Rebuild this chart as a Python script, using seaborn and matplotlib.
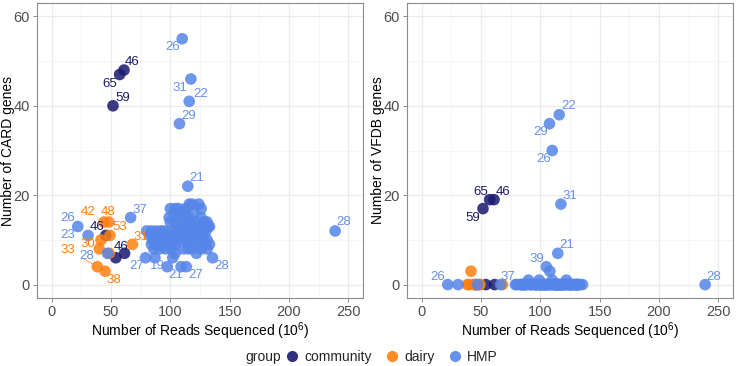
import matplotlib
matplotlib.use("Agg")
import matplotlib.pyplot as plt
from matplotlib.lines import Line2D
from matplotlib.ticker import MultipleLocator
import seaborn as sns
import pandas as pd

# ---------------- data ----------------
groups = ["community", "dairy", "HMP"]

community_reads = [60.9, 57.2, 51.6, 45.5, 54.0, 61.4]
community_card = [48, 47, 40, 11, 6, 7]
community_vfdb = [19, 19, 17, 0, 0, 0]
community_age = ["46", "65", "59", "46", "46", ""]

dairy_reads = [44.0, 48.0, 49.0, 41.5, 40.0, 68.0, 48.5, 38.4, 44.9]
dairy_card = [14, 14, 11, 10, 8, 9, 7, 4, 3]
dairy_vfdb = [0, 0, 0, 3, 0, 0, 0, 0, 0]
dairy_age = ["42", "48", "53", "30", "", "31", "", "33", "38"]

hmp_reads = [110.0, 117.3, 115.9, 107.7, 114.7, 239.0, 21.9, 30.6, 66.5, 47.0,
             79.0, 87.0, 97.4, 113.4, 135.5, 105.0, 108.0, 90.0, 99.0, 110.0,
             122.0, 109.0,
             100, 104, 107, 113, 116, 118.4, 124, 126,
             103, 108, 112, 120,
             99, 106, 115, 126, 131,
             100, 104, 112, 117, 121, 129, 132,
             109, 113, 116, 119, 123, 127, 133,
             80, 84, 88, 92, 95, 101, 114, 118, 125, 130,
             83, 87, 97, 103, 111, 115, 120, 124, 128,
             85, 92, 95, 102, 106, 113, 117, 121, 131,
             84, 88, 93, 98, 104, 115, 124, 129, 133,
             86, 91, 96, 101, 111, 115, 118, 126, 131,
             104, 102]
hmp_card = [55, 46, 41, 36, 22, 12, 13, 11, 15, 7,
            6, 6, 4, 4, 6, 12, 11, 10, 10, 12,
            7, 4,
            17, 17, 17, 17, 18, 18, 18, 17,
            16, 16, 16, 16,
            15, 15, 15, 15, 14,
            14, 14, 14, 14, 14, 14, 13,
            13, 13, 13, 13, 13, 13, 13,
            12, 12, 12, 12, 12, 12, 12, 12, 12, 12,
            11, 11, 11, 11, 11, 11, 11, 11, 11,
            10, 10, 10, 10, 10, 10, 10, 10, 10,
            9, 9, 9, 9, 9, 9, 9, 9, 9,
            8, 8, 8, 8, 8, 8, 8, 8, 8,
            7, 6]
hmp_vfdb = [30, 18, 38, 36, 7, 0, 0, 0, 0, 0,
            0, 0, 0, 0, 0, 4, 3, 1, 1, 1,
            1, 0] + [0] * 80
hmp_age = ["26", "31", "22", "29", "21", "28", "26", "23", "37", "28",
           "27", "19", "21", "27", "28", "39"] + [""] * 86

# ---------------- label placement (pixel offsets, y up) ----------------
card_offsets = {
    ("HMP", 0): (-10, -8), ("HMP", 1): (-11, -9), ("HMP", 2): (11, 7),
    ("HMP", 3): (9, 8), ("HMP", 4): (9, 8), ("HMP", 5): (9, 9),
    ("HMP", 6): (-10, 8), ("HMP", 7): (-20, 0), ("HMP", 8): (9, 8),
    ("HMP", 9): (-21, -3), ("HMP", 10): (-9, -8), ("HMP", 11): (2, -8),
    ("HMP", 12): (8, -8), ("HMP", 13): (9, -8), ("HMP", 14): (9, -8),
    ("community", 0): (8, 8), ("community", 1): (-10, -9),
    ("community", 2): (10, 8), ("community", 3): (-9, 8),
    ("community", 4): (5, 11),
    ("dairy", 0): (-16, 10), ("dairy", 1): (-1, 10), ("dairy", 2): (10, 8),
    ("dairy", 3): (-13, -4), ("dairy", 5): (8, 7), ("dairy", 7): (-30, 17),
    ("dairy", 8): (9, -9),
}
card_segments = {("HMP", 7), ("HMP", 9), ("dairy", 0), ("dairy", 7)}

vfdb_offsets = {
    ("HMP", 0): (-9, -9), ("HMP", 1): (9, 8), ("HMP", 2): (9, 9),
    ("HMP", 3): (-9, -8), ("HMP", 4): (9, 8), ("HMP", 5): (9, 8),
    ("HMP", 6): (-10, 8), ("HMP", 8): (7, 8), ("HMP", 15): (-9, 8),
    ("community", 0): (9, 8), ("community", 1): (-9, 8),
    ("community", 2): (-10, -9),
}

# ---------------- build frame ----------------
rows = []
for g, rd, cd, vf, ag in [
    ("community", community_reads, community_card, community_vfdb, community_age),
    ("dairy", dairy_reads, dairy_card, dairy_vfdb, dairy_age),
    ("HMP", hmp_reads, hmp_card, hmp_vfdb, hmp_age),
]:
    for i in range(len(rd)):
        rows.append(dict(group=g, idx=i, reads=rd[i], CARD=cd[i], VFDB=vf[i], age=ag[i]))
df = pd.DataFrame(rows)

# ---------------- style ----------------
sns.set_theme(style="white")
plt.rcParams["font.family"] = ["Liberation Sans", "DejaVu Sans"]
plt.rcParams["mathtext.fontset"] = "custom"
plt.rcParams["mathtext.rm"] = "Liberation Sans"
plt.rcParams["mathtext.it"] = "Liberation Sans"

palette = {"community": "#191970", "dairy": "#FF7F0E", "HMP": "#5585E8"}
label_colors = {"community": "#191970", "dairy": "#FF7F0E", "HMP": "#6590EC"}

W, H = 736, 366
fig = plt.figure(figsize=(W / 100, H / 100), dpi=100)
ax1 = fig.add_axes([37 / W, 1 - 298 / H, 326 / W, 295 / H])
ax2 = fig.add_axes([407 / W, 1 - 298 / H, 326 / W, 295 / H])

for ax, col, offsets, segs, ylab in [
    (ax1, "CARD", card_offsets, card_segments, "Number of CARD genes"),
    (ax2, "VFDB", vfdb_offsets, set(), "Number of VFDB genes"),
]:
    ax.set_facecolor("white")
    sns.scatterplot(data=df, x="reads", y=col, hue="group", hue_order=groups,
                    palette=palette, s=70, alpha=0.85, linewidth=0,
                    legend=False, ax=ax, zorder=3)
    ax.set_xlim(-12.5, 262.5)
    ax.set_ylim(-3, 63)
    ax.xaxis.set_major_locator(MultipleLocator(50))
    ax.xaxis.set_minor_locator(MultipleLocator(25))
    ax.yaxis.set_major_locator(MultipleLocator(20))
    ax.yaxis.set_minor_locator(MultipleLocator(10))
    ax.grid(which="major", color="#EBEBEB", lw=0.9, zorder=0)
    ax.grid(which="minor", color="#F4F4F4", lw=0.6, zorder=0)
    ax.set_axisbelow(True)
    for sp in ax.spines.values():
        sp.set_color("#8C8C8C")
        sp.set_linewidth(0.8)
    ax.tick_params(axis="both", which="major", length=3, width=0.7,
                   color="#8C8C8C", labelsize=10.5, labelcolor="#4D4D4D",
                   bottom=True, left=True, pad=2)
    ax.tick_params(which="minor", length=0)
    ax.set_xlabel("Number of Reads Sequenced (10$^{6}$)", fontsize=10,
                  color="black", labelpad=1)
    ax.set_ylabel(ylab, fontsize=10, color="black")
    ax.yaxis.set_label_coords(-0.068, 0.5)

    for (g, i), (dx, dy) in offsets.items():
        r = df[(df.group == g) & (df.idx == i)].iloc[0]
        arrow = None
        if (g, i) in segs:
            arrow = dict(arrowstyle="-", lw=0.5, color=label_colors[g],
                         shrinkA=5, shrinkB=4)
        ax.annotate(r["age"], xy=(r["reads"], r[col]), xytext=(dx, dy),
                    textcoords="offset pixels", ha="center", va="center",
                    fontsize=9.5, color=label_colors[g], zorder=4,
                    arrowprops=arrow)

# ---------------- legend ----------------
fig.text(245 / W, 1 - 357 / H, "group", fontsize=10, va="center", ha="left")
handles = [Line2D([], [], marker="o", ls="", markersize=8, color=palette[g],
                  alpha=0.9, markeredgewidth=0) for g in groups]
fig.legend(handles, groups, loc="center left", ncol=3, frameon=False,
           bbox_to_anchor=(284 / W, 1 - 357 / H), fontsize=10,
           handletextpad=0.25, columnspacing=0.9, handlelength=1.2,
           borderpad=0, borderaxespad=0)

fig.savefig("out.png", dpi=100)
